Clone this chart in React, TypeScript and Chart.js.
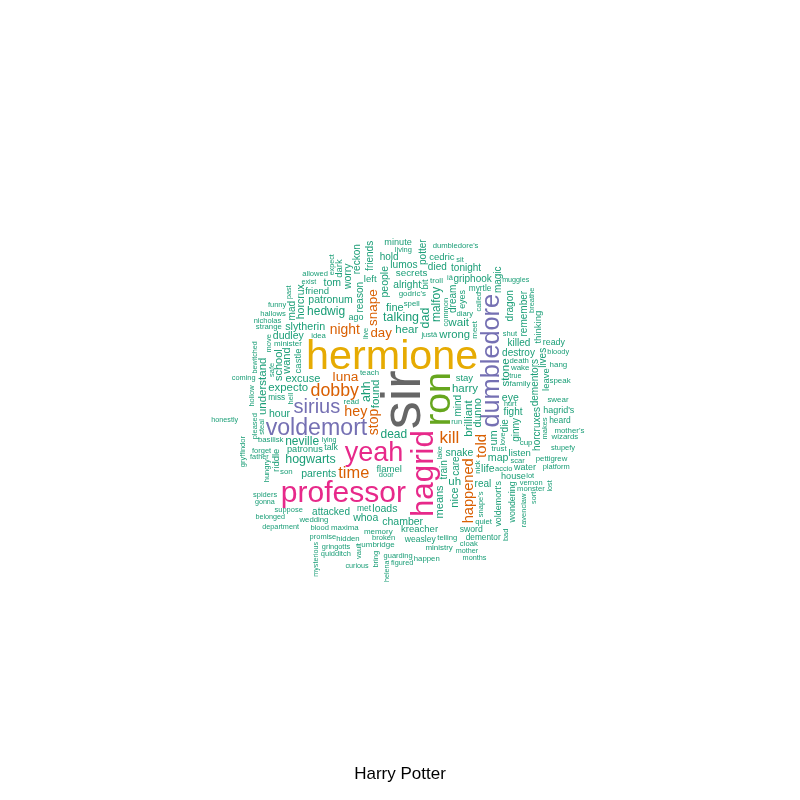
import React, { useEffect, useRef } from "react";
import { Chart, registerables } from "chart.js";

Chart.register(...registerables);

// ---- data -------------------------------------------------------------
const titleText = "Harry Potter";

const words: string[] = [
  "sir", "hermione", "ron", "hagrid", "professor", "yeah", "dumbledore", "voldemort", "sirius", "dobby",
  "kill", "time", "happened", "told", "night", "hey", "stop", "snape", "luna", "day",
  "talking", "hogwarts", "dad", "ahh", "neville", "malfoy", "hedwig", "dead", "wait", "hear",
  "found", "stone", "uh", "harry", "brilliant", "understand", "expecto", "wrong", "school", "wand",
  "means", "um", "excuse", "fine", "nice", "slytherin", "map", "chamber", "whoa", "horcrux",
  "snake", "parents", "patronum", "loads", "eye", "dudley", "hour", "life", "people", "dunno",
  "worry", "tom", "lumos", "alright", "reason", "reckon", "care", "fight", "mad", "ginny",
  "die", "friends", "potter", "real", "died", "mind", "train", "tonight", "griphook", "dragon",
  "destroy", "attacked", "dream", "remember", "lives", "hold", "killed", "dementors", "horcruxes", "magic",
  "secrets", "castle", "leave", "kreacher", "friend", "stay", "riddle", "cedric", "listen", "thinking",
  "dark", "flamel", "left", "bit", "patronus", "house", "minute", "wondering", "voldemort's", "ready",
  "hagrid's", "eyes", "ago", "water", "talk", "sword", "weasley", "heard", "met", "myrtle",
  "miss", "dementor", "umbridge", "godric's", "wake", "speak", "swear", "hang", "minister", "memory",
  "troll", "cup", "ministry", "family", "meet", "mother's", "son", "wizards", "maxima", "pettigrew",
  "teach", "basilisk", "read", "spell", "trust", "strange", "quiet", "idea", "death", "wedding",
  "hidden", "happen", "monster", "cloak", "dumbledore's", "telling", "hallows", "diary", "scar", "blood",
  "allowed", "broken", "shut", "stupefy", "move", "steal", "guarding", "hell", "bring", "pleased",
  "hollow", "forget", "snape's", "justâ", "called", "hungry", "common", "vault", "nicholas", "platform",
  "door", "safe", "vernon", "promise", "spiders", "funny", "suppose", "gryffindor", "breathe", "ravenclaw",
  "makes", "living", "sit", "lot", "bad", "iâ", "quidditch", "nick", "accio", "live",
  "gringotts", "bloody", "coming", "run", "lost", "father", "months", "figured", "lake", "department",
  "sort", "bewitched", "true", "gonna", "helena", "expect", "honestly", "muggles", "belonged", "love",
  "past", "curious", "hurt", "mysterious", "lying", "mother", "exist",
];

const counts: number[] = [
  500, 350, 312, 248, 235, 205, 187, 165, 133, 110,
  102, 96, 78, 82, 70, 74, 71, 66, 68, 64,
  56, 56, 56, 56, 51, 51, 51, 51, 48, 46,
  46, 46, 46, 46, 46, 46, 45, 44, 41, 41,
  41, 41, 41, 41, 41, 38, 37, 36, 36, 36,
  35, 36, 36, 36, 36, 36, 36, 36, 36, 36,
  36, 36, 33, 33, 31, 31, 31, 31, 31, 31,
  31, 31, 31, 31, 31, 31, 31, 31, 31, 31,
  31, 31, 31, 31, 31, 31, 31, 31, 31, 31,
  29, 26, 26, 26, 26, 26, 26, 26, 26, 26,
  26, 26, 26, 26, 23, 22, 22, 20, 20, 19,
  20, 20, 20, 20, 18, 17, 16, 15, 15, 13,
  13, 13, 10, 10, 10, 10, 10, 10, 10, 10,
  10, 10, 10, 10, 10, 9, 9, 9, 9, 8,
  8, 8, 8, 8, 8, 8, 8, 8, 8, 8,
  8, 8, 7, 7, 7, 7, 7, 7, 6, 6,
  6, 6, 6, 5, 5, 5, 5, 5, 5, 5,
  5, 5, 5, 5, 5, 5, 5, 5, 5, 5,
  5, 5, 5, 5, 5, 5, 5, 5, 5, 5,
  5, 5, 5, 5, 5, 5, 5, 5, 5, 5,
  4, 4, 4, 4, 3, 3, 3, 3, 3, 3,
  3, 2, 2, 2, 2, 2, 2, 2, 2, 2,
  2, 2, 2, 2, 2, 2, 2,
];

// ---- style ------------------------------------------------------------
const verticalWords = new Set<string>([
  "sir", "ron", "hagrid", "dumbledore", "happened", "told", "stop", "snape", "dad", "ahh",
  "malfoy", "found", "stone", "brilliant", "understand", "school", "wand", "means", "um", "nice",
  "horcrux", "people", "dunno", "worry", "reason", "reckon", "care", "mad", "ginny", "die",
  "friends", "potter", "mind", "train", "dragon", "dream", "remember", "lives", "dementors", "horcruxes",
  "magic", "castle", "leave", "riddle", "thinking", "dark", "bit", "wondering", "voldemort's", "eyes",
  "meet", "move", "steal", "hell", "bring", "pleased", "hollow", "snape's", "called", "hungry",
  "common", "vault", "safe", "gryffindor", "breathe", "ravenclaw", "makes", "bad", "nick", "live",
  "lost", "lake", "sort", "bewitched", "helena", "expect", "love", "past", "mysterious",
]);

const palette = ["#1B9E77", "#D95F02", "#7570B3", "#E7298A", "#66A61E", "#E6AB02", "#A6761D", "#666666"];
const FONT = "'Liberation Sans', Arial, sans-serif";
const MAX_FONT = 56;
const MIN_FONT = 7;
const CAP = 0.716;
const R_STEP_PX = 68;
const SEED = 3;

function mulberry32(a: number) {
  return function () {
    a |= 0;
    a = (a + 0x6d2b79f5) | 0;
    let t = Math.imul(a ^ (a >>> 15), 1 | a);
    t = (t + Math.imul(t ^ (t >>> 7), 61 | t)) ^ t;
    return ((t ^ (t >>> 14)) >>> 0) / 4294967296;
  };
}

type Placed = { i: number; x: number; y: number; size: number; rot: boolean; color: string };

const cloudPlugin = {
  id: "wordcloudLayout",
  afterDatasetsDraw(chart: any) {
    const xs = chart.scales.x;
    const ys = chart.scales.y;
    const ctx: CanvasRenderingContext2D = chart.ctx;
    if (!chart.$cloud) {
      const maxC = Math.max(...counts);
      const order = words.map((_, i) => i).sort((a, b) => counts[b] - counts[a]);
      const cx = xs.getPixelForValue(0);
      const cy = ys.getPixelForValue(0);
      const boxes: { x: number; y: number; w: number; h: number }[] = [];
      const rand = mulberry32(SEED);
      const out: Placed[] = [];
      for (const i of order) {
        const norm = counts[i] / maxC;
        const size = MIN_FONT + (MAX_FONT - MIN_FONT) * norm;
        const color = palette[Math.max(0, Math.ceil(palette.length * norm) - 1)];
        ctx.font = `${size}px ${FONT}`;
        let w = ctx.measureText(words[i]).width;
        let h = size * CAP;
        if (/[gjpqy]/.test(words[i])) h *= 1.2;
        const rot = verticalWords.has(words[i]);
        if (rot) {
          const t = w;
          w = h;
          h = t;
        }
        let r = 0;
        let theta = rand() * Math.PI * 2;
        let x = cx;
        let y = cy;
        for (let step = 0; step < 50000; step++) {
          const bx = x - w / 2;
          const by = y - h / 2;
          let hit = false;
          for (const b of boxes) {
            if (bx < b.x + b.w && bx + w > b.x && by < b.y + b.h && by + h > b.y) {
              hit = true;
              break;
            }
          }
          if (!hit) break;
          theta += 0.1;
          r += (R_STEP_PX * 0.1) / (2 * Math.PI);
          x = cx + r * Math.cos(theta);
          y = cy + r * Math.sin(theta);
        }
        boxes.push({ x: x - w / 2, y: y - h / 2, w, h });
        out.push({ i, x: xs.getValueForPixel(x), y: ys.getValueForPixel(y), size, rot, color });
      }
      chart.$cloud = out;
    }
    const placed: Placed[] = chart.$cloud;
    ctx.save();
    ctx.textAlign = "center";
    ctx.textBaseline = "alphabetic";
    for (const p of placed) {
      const px = xs.getPixelForValue(p.x);
      const py = ys.getPixelForValue(p.y);
      ctx.save();
      ctx.translate(px, py);
      if (p.rot) ctx.rotate(-Math.PI / 2);
      ctx.font = `${p.size}px ${FONT}`;
      ctx.fillStyle = p.color;
      ctx.fillText(words[p.i], 0, p.size * CAP * 0.5);
      ctx.restore();
    }
    ctx.restore();
  },
};

export default function App() {
  const ref = useRef<HTMLCanvasElement | null>(null);
  useEffect(() => {
    if (!ref.current) return;
    const chart = new Chart(ref.current, {
      type: "scatter",
      data: { datasets: [{ data: [], pointRadius: 0 }] },
      options: {
        responsive: false,
        animation: false,
        layout: { padding: { top: 45, left: 0, right: 0, bottom: 0 } },
        plugins: {
          legend: { display: false },
          tooltip: { enabled: false },
          title: {
            display: true,
            text: titleText,
            position: "bottom",
            color: "#000000",
            font: { family: FONT, size: 17, weight: "normal" },
            padding: { top: 10, bottom: 15 },
          },
        },
        scales: {
          x: { type: "linear", min: -400, max: 400, display: false },
          y: { type: "linear", min: -355, max: 355, display: false },
        },
      },
      plugins: [cloudPlugin],
    });
    return () => chart.destroy();
  }, []);
  return (
    <div style={{ position: "absolute", left: 0, top: 0, width: 800, height: 800, background: "#fff" }}>
      <canvas ref={ref} width={800} height={800} style={{ display: "block" }} />
    </div>
  );
}
